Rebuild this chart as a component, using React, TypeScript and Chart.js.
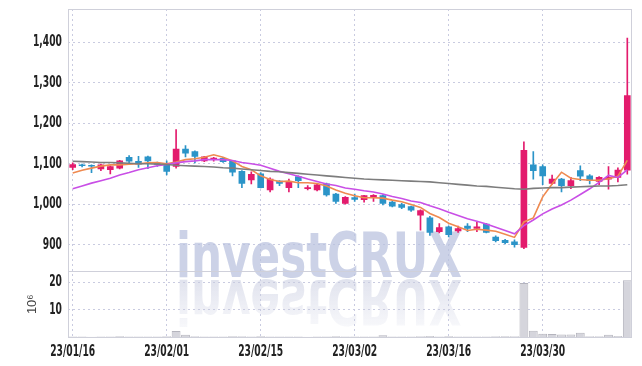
import React, { useEffect, useRef } from 'react';
import { Chart, registerables } from 'chart.js';

Chart.register(...registerables);

const dates = [
  '23/01/16', '23/01/17', '23/01/18', '23/01/19', '23/01/20', '23/01/25', '23/01/26', '23/01/27', '23/01/30', '23/01/31',
  '23/02/01', '23/02/02', '23/02/03', '23/02/06', '23/02/07', '23/02/08', '23/02/09', '23/02/10', '23/02/13', '23/02/14',
  '23/02/15', '23/02/16', '23/02/17', '23/02/20', '23/02/21', '23/02/22', '23/02/23', '23/02/24', '23/02/27', '23/02/28',
  '23/03/02', '23/03/03', '23/03/06', '23/03/07', '23/03/08', '23/03/09', '23/03/10', '23/03/13', '23/03/14', '23/03/15',
  '23/03/16', '23/03/17', '23/03/20', '23/03/21', '23/03/22', '23/03/23', '23/03/24', '23/03/27', '23/03/28', '23/03/29',
  '23/03/30', '23/03/31', '23/04/03', '23/04/04', '23/04/05', '23/04/06', '23/04/07', '23/04/10', '23/04/11', '23/04/12',
];

const opens = [
  1091, 1097, 1096, 1087, 1085, 1089, 1116, 1106, 1117, 1101,
  1101, 1093, 1136, 1130, 1107, 1110, 1113, 1107, 1081, 1060,
  1075, 1035, 1057, 1041, 1068, 1038, 1035, 1050, 1025, 1002,
  1016, 1011, 1017, 1021, 1005, 999, 994, 973, 966, 932,
  944, 934, 946, 940, 951, 919, 911, 907, 893, 1097,
  1093, 1051, 1062, 1046, 1083, 1070, 1056, 1062, 1066, 1084,
];
const highs = [
  1102, 1099, 1097, 1099, 1095, 1108, 1120, 1118, 1119, 1104,
  1107, 1184, 1145, 1132, 1118, 1116, 1115, 1108, 1083, 1080,
  1078, 1065, 1058, 1062, 1070, 1046, 1050, 1052, 1027, 1019,
  1025, 1022, 1024, 1023, 1007, 1002, 995, 986, 970, 952,
  946, 946, 952, 955, 953, 922, 913, 912, 1154, 1130,
  1097, 1072, 1064, 1066, 1095, 1073, 1068, 1093, 1090, 1410,
];
const lows = [
  1085, 1092, 1078, 1083, 1075, 1087, 1100, 1091, 1088, 1093,
  1072, 1089, 1117, 1102, 1105, 1106, 1103, 1070, 1041, 1050,
  1040, 1030, 1046, 1030, 1041, 1035, 1033, 1020, 1002, 1000,
  1007, 1005, 1007, 998, 993, 989, 982, 936, 923, 929,
  919, 930, 932, 932, 929, 907, 902, 894, 890, 1062,
  1048, 1049, 1030, 1038, 1058, 1050, 1048, 1037, 1055, 1074,
];
const closes = [
  1098, 1095, 1094, 1097, 1093, 1107, 1106, 1099, 1107, 1098,
  1081, 1136, 1126, 1118, 1117, 1114, 1105, 1079, 1051, 1074,
  1041, 1062, 1051, 1055, 1058, 1041, 1048, 1023, 1007, 1017,
  1012, 1021, 1022, 1002, 995, 992, 985, 984, 930, 942,
  925, 940, 940, 944, 930, 910, 905, 900, 1133, 1083,
  1070, 1062, 1046, 1058, 1069, 1058, 1066, 1066, 1084, 1268,
];

// volume in millions
const volumes = [
  0.2, 0.15, 0.1, 0.2, 0.15, 0.25, 0.2, 0.15, 0.2, 0.15,
  0.3, 2.2, 0.8, 0.3, 0.2, 0.15, 0.2, 0.25, 0.3, 0.2,
  0.25, 0.2, 0.15, 0.2, 0.15, 0.1, 0.15, 0.2, 0.25, 0.2,
  0.2, 0.15, 0.2, 0.6, 0.2, 0.15, 0.2, 0.3, 0.35, 0.2,
  0.25, 0.2, 0.15, 0.2, 0.2, 0.3, 0.25, 0.3, 19.8, 2.3,
  1.2, 1.1, 0.9, 0.9, 1.6, 0.3, 0.3, 0.8, 0.4, 20.8,
];

const ma5 = [
  1077, 1084, 1089, 1094, 1097, 1097, 1099, 1100, 1102, 1103,
  1100, 1104, 1110, 1112, 1116, 1122, 1116, 1107, 1093, 1085,
  1070, 1061, 1056, 1057, 1053, 1053, 1051, 1045, 1035, 1027,
  1021, 1016, 1016, 1015, 1010, 1006, 999, 992, 977, 967,
  953, 944, 935, 938, 936, 933, 926, 918, 956, 966,
  1018, 1050, 1079, 1064, 1061, 1059, 1059, 1063, 1069, 1108,
];
const ma10 = [
  1038, 1045, 1052, 1058, 1064, 1072, 1078, 1085, 1090, 1095,
  1098, 1102, 1105, 1107, 1110, 1110, 1110, 1108, 1103, 1100,
  1096, 1089, 1081, 1075, 1069, 1062, 1056, 1050, 1046, 1040,
  1037, 1033, 1030, 1025, 1019, 1014, 1008, 1004, 996, 989,
  980, 972, 964, 958, 951, 943, 935, 927, 947, 961,
  976, 988, 998, 1010, 1024, 1038, 1054, 1071, 1066, 1085,
];
const maLong = [
  1106, 1105, 1104, 1103, 1103, 1102, 1101, 1100, 1100, 1099,
  1098, 1096, 1095, 1094, 1093, 1092, 1090, 1089, 1087, 1085,
  1083, 1081, 1080, 1078, 1076, 1074, 1072, 1070, 1068, 1066,
  1064, 1062, 1061, 1060, 1059, 1058, 1057, 1056, 1055, 1053,
  1051, 1049, 1047, 1045, 1044, 1042, 1040, 1038, 1037, 1039,
  1040, 1041, 1041, 1042, 1043, 1044, 1045, 1045, 1046, 1048,
];

const priceTicks = [900, 1000, 1100, 1200, 1300, 1400];
const volumeTicks = [10, 20];

const UP = '#e31b6d';
const DOWN = '#2b94c8';
const GRID = '#c9cbe0';
const FONT = "'DejaVu Sans Condensed', 'DejaVu Sans', sans-serif";
const CONDENSE = 0.68;

const framePlugin = {
  id: 'frame',
  beforeDraw(chart: any) {
    const ctx = chart.ctx;
    if (!ctx.__patched) {
      const orig = ctx.fillText;
      ctx.fillText = function (text: any, x: number, y: number, mw?: number) {
        if (ctx.__condense && /^[\d,\/]+$/.test(String(text))) {
          ctx.save();
          ctx.translate(x, y);
          ctx.scale(CONDENSE, 1);
          orig.call(ctx, text, 0, 0);
          ctx.restore();
        } else if (mw === undefined) {
          orig.call(ctx, text, x, y);
        } else {
          orig.call(ctx, text, x, y, mw);
        }
      };
      ctx.__patched = true;
    }
    ctx.__condense = true;
  },
  beforeDatasetsDraw(chart: any) {
    const ctx = chart.ctx;
    ctx.__condense = false;
    const text = 'investCRUX';
    ctx.save();
    ctx.font = `bold 62px ${FONT}`;
    const w = ctx.measureText(text).width;
    const sx = 286 / w;
    ctx.translate(176, 277);
    ctx.scale(sx, 1);
    ctx.textBaseline = 'alphabetic';
    ctx.fillStyle = 'rgba(184,192,222,0.72)';
    ctx.fillText(text, 0, 0);
    ctx.scale(1, -1);
    ctx.translate(0, -3);
    const g = ctx.createLinearGradient(0, 0, 0, -46);
    g.addColorStop(0, 'rgba(200,204,224,0.55)');
    g.addColorStop(1, 'rgba(200,204,224,0.15)');
    ctx.fillStyle = g;
    ctx.fillText(text, 0, 0);
    ctx.restore();
  },
  afterDraw(chart: any) {
    const { ctx, chartArea } = chart;
    const { left, right, top, bottom } = chartArea;
    const sep = chart.scales.yVol.top;
    ctx.save();
    ctx.strokeStyle = '#cfd0da';
    ctx.lineWidth = 1;
    ctx.strokeRect(Math.round(left) + 0.5, Math.round(top) + 0.5, Math.round(right - left) - 1, Math.round(bottom - top));
    ctx.beginPath();
    ctx.moveTo(left, Math.round(sep) + 0.5);
    ctx.lineTo(right, Math.round(sep) + 0.5);
    ctx.stroke();
    ctx.restore();
  },
};

export default function App() {
  const ref = useRef<HTMLCanvasElement>(null);

  useEffect(() => {
    document.body.style.margin = '0';
    const colors = closes.map((c, i) => (c >= opens[i] ? UP : DOWN));
    const tickFont = { family: FONT, size: 15, weight: 'bold' as const };
    const fitY = (s: any) => {
      s.width = 60;
      s.paddingTop = 0;
      s.paddingBottom = 0;
    };
    const chart = new Chart(ref.current as HTMLCanvasElement, {
      type: 'bar',
      data: {
        labels: dates,
        datasets: [
          {
            type: 'line', data: maLong, yAxisID: 'y', borderColor: '#7d7d7d', borderWidth: 1.6,
            pointRadius: 0, order: 0,
          } as any,
          {
            type: 'line', data: ma10, yAxisID: 'y', borderColor: '#c94fe6', borderWidth: 1.6,
            pointRadius: 0, order: 0,
          } as any,
          {
            type: 'line', data: ma5, yAxisID: 'y', borderColor: '#ef8a50', borderWidth: 1.6,
            pointRadius: 0, order: 0,
          } as any,
          {
            type: 'bar', data: lows.map((l, i) => [l, highs[i]]), yAxisID: 'y',
            backgroundColor: colors, barThickness: 1, grouped: false, order: 2,
          } as any,
          {
            type: 'bar', data: opens.map((o, i) => [o, closes[i]]), yAxisID: 'y',
            backgroundColor: colors, barThickness: 6, grouped: false, order: 1,
          } as any,
          {
            type: 'bar', data: volumes, yAxisID: 'yVol',
            backgroundColor: '#d5d5dc', borderColor: '#b4b4bd',
            borderWidth: { top: 1, left: 1, right: 1, bottom: 0 },
            barPercentage: 1, categoryPercentage: 0.94, grouped: false, order: 3,
          } as any,
        ],
      },
      options: {
        animation: false,
        responsive: true,
        maintainAspectRatio: false,
        layout: { padding: { left: 8, right: 10, top: 9, bottom: 0 } },
        plugins: { legend: { display: false }, tooltip: { enabled: false } },
        scales: {
          x: {
            type: 'category',
            offset: true,
            grid: {
              offset: false,
              drawTicks: false,
              color: (c: any) => (c.index % 10 === 0 ? GRID : 'rgba(0,0,0,0)'),
            },
            border: { display: false, dash: [2, 3] },
            ticks: {
              autoSkip: false,
              maxRotation: 0,
              padding: 6,
              font: tickFont,
              color: '#222',
              callback: (_v: any, i: number) => (i % 10 === 0 ? dates[i] : ''),
            },
            afterFit: (s: any) => {
              s.height = 29;
              s.paddingLeft = 0;
              s.paddingRight = 0;
            },
          },
          yVol: {
            type: 'linear',
            position: 'left',
            stack: 'panels',
            stackWeight: 1,
            min: 0,
            max: 24,
            afterBuildTicks: (s: any) => { s.ticks = volumeTicks.map((v) => ({ value: v })); },
            afterFit: fitY,
            grid: { color: GRID, drawTicks: false },
            border: { display: false, dash: [2, 3] },
            ticks: { padding: 6, font: tickFont, color: '#222' },
            title: {
              display: true,
              text: '10⁶',
              color: '#444',
              font: { family: "'Liberation Sans', sans-serif", size: 13 },
              padding: { top: 17, bottom: 0 },
            },
          },
          y: {
            type: 'linear',
            position: 'left',
            stack: 'panels',
            stackWeight: 4,
            min: 834,
            max: 1482,
            afterBuildTicks: (s: any) => { s.ticks = priceTicks.map((v) => ({ value: v })); },
            afterFit: fitY,
            grid: { color: GRID, drawTicks: false },
            border: { display: false, dash: [2, 3] },
            ticks: {
              padding: 6,
              font: tickFont,
              color: '#222',
              callback: (v: any) => Number(v).toLocaleString('en-US'),
            },
          },
        },
      } as any,
      plugins: [framePlugin],
    });
    return () => chart.destroy();
  }, []);

  return (
    <div style={{ position: 'absolute', left: 0, top: 0, width: 642, height: 366, background: '#fff' }}>
      <canvas ref={ref} />
    </div>
  );
}
